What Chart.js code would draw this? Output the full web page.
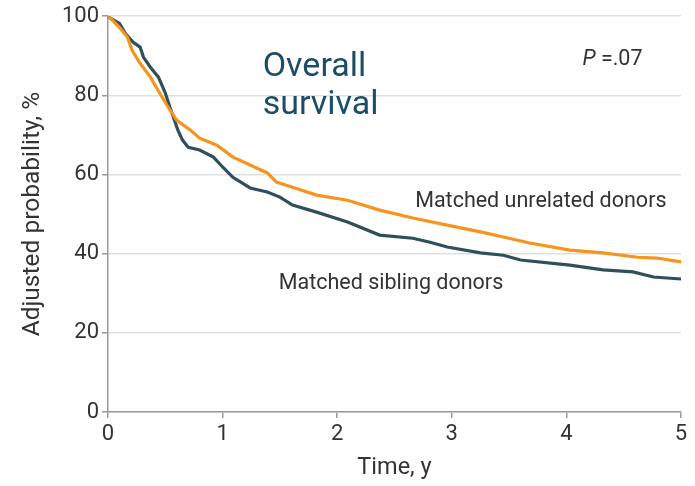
<!DOCTYPE html>
<html>
<head>
<meta charset="utf-8">
<script src="https://cdn.jsdelivr.net/npm/chart.js@4/dist/chart.umd.min.js"></script>
<style>
  html, body { margin: 0; padding: 0; background: #fff; }
  #wrap { width: 695px; height: 486px; position: relative; }
</style>
</head>
<body>
<div id="wrap"><canvas id="c" width="695" height="486"></canvas></div>
<script>
// Survival time in years and adjusted survival probability (%)
const unrelatedTime = [0, 0.02, 0.10, 0.17, 0.21, 0.28, 0.37, 0.45, 0.54, 0.60, 0.72, 0.80, 0.95, 1.09, 1.24, 1.39, 1.47, 1.61, 1.82, 2.09, 2.37, 2.66, 2.96, 3.25, 3.45, 3.68, 4.03, 4.32, 4.62, 4.79, 5.0];
const unrelatedProb = [100, 99.5, 97.2, 94.7, 91.4, 88.1, 84.6, 80.6, 76.3, 73.7, 71.2, 69.2, 67.4, 64.4, 62.4, 60.4, 58.1, 56.8, 54.8, 53.5, 51.0, 49.0, 47.2, 45.5, 44.2, 42.7, 40.9, 40.2, 39.1, 38.9, 37.9];

const siblingTime = [0, 0.02, 0.10, 0.15, 0.22, 0.28, 0.31, 0.37, 0.44, 0.50, 0.54, 0.58, 0.61, 0.65, 0.70, 0.80, 0.92, 1.00, 1.09, 1.24, 1.39, 1.50, 1.61, 1.82, 2.09, 2.37, 2.66, 2.81, 2.96, 3.25, 3.45, 3.60, 4.03, 4.32, 4.58, 4.76, 5.0];
const siblingProb = [100, 99.5, 98.2, 95.7, 93.4, 92.2, 89.6, 87.1, 84.6, 80.6, 77.0, 73.7, 71.2, 68.7, 66.9, 66.2, 64.4, 61.9, 59.3, 56.6, 55.6, 54.3, 52.3, 50.5, 48.0, 44.7, 43.9, 42.9, 41.7, 40.2, 39.6, 38.4, 37.1, 35.9, 35.4, 34.1, 33.6];

const xTicks = [0, 1, 2, 3, 4, 5];
const yTicks = [0, 20, 40, 60, 80, 100];

const FONT = "Roboto, 'Open Sans', sans-serif";
const toPoints = (xs, ys) => xs.map((x, i) => ({ x: x, y: ys[i] }));

// Text annotations placed in data coordinates
const annotations = {
  id: 'annotations',
  afterDatasetsDraw(chart) {
    const { ctx, scales: { x, y } } = chart;
    ctx.save();
    ctx.textBaseline = 'alphabetic';
    ctx.textAlign = 'left';

    ctx.fillStyle = '#1d4c6b';
    ctx.font = `34px ${FONT}`;
    ctx.fillText('Overall', x.getPixelForValue(1.35), y.getPixelForValue(84.8));
    ctx.fillText('survival', x.getPixelForValue(1.35), y.getPixelForValue(75.3));

    ctx.fillStyle = '#333';
    ctx.font = `21.5px ${FONT}`;
    ctx.fillText('Matched unrelated donors', x.getPixelForValue(2.68), y.getPixelForValue(51.8));
    ctx.fillText('Matched sibling donors', x.getPixelForValue(1.49), y.getPixelForValue(31.1));

    const px = x.getPixelForValue(4.14), py = y.getPixelForValue(87.6);
    ctx.font = `italic 21.5px ${FONT}`;
    ctx.fillText('P', px, py);
    const w = ctx.measureText('P ').width;
    ctx.font = `21.5px ${FONT}`;
    ctx.fillText('=.07', px + w, py);
    ctx.restore();
  }
};

new Chart(document.getElementById('c'), {
  type: 'line',
  data: {
    datasets: [
      {
        label: 'Matched unrelated donors',
        data: toPoints(unrelatedTime, unrelatedProb),
        borderColor: '#f7941d',
        borderWidth: 3.2,
        pointRadius: 0,
        tension: 0,
        fill: false
      },
      {
        label: 'Matched sibling donors',
        data: toPoints(siblingTime, siblingProb),
        borderColor: '#2e4f5c',
        borderWidth: 3.2,
        pointRadius: 0,
        tension: 0,
        fill: false
      }
    ]
  },
  options: {
    responsive: false,
    animation: false,
    layout: { padding: { left: 0, right: 14, top: 16, bottom: 0 } },
    plugins: {
      legend: { display: false },
      tooltip: { enabled: false }
    },
    scales: {
      x: {
        type: 'linear',
        min: 0,
        max: 5,
        afterFit(s) { s.height = 74; },
        afterBuildTicks(s) { s.ticks = xTicks.map(v => ({ value: v })); },
        border: { color: '#999', width: 1.5 },
        grid: { drawOnChartArea: false, color: '#999', tickColor: '#999', tickLength: 6, lineWidth: 1.5 },
        ticks: { color: '#333', font: { family: FONT, size: 22 }, padding: 3, maxRotation: 0 },
        title: { display: true, text: 'Time, y', color: '#333', font: { family: FONT, size: 23.5 }, padding: { top: 2, bottom: 4 } }
      },
      y: {
        min: 0,
        max: 100,
        afterFit(s) { s.width = 108; },
        afterBuildTicks(s) { s.ticks = yTicks.map(v => ({ value: v })); },
        border: { color: '#999', width: 1.5 },
        grid: { color: '#e0e0e0', lineWidth: 1.5, tickColor: '#999', tickLength: 6 },
        ticks: { color: '#333', font: { family: FONT, size: 22 }, padding: 3 },
        title: { display: true, text: 'Adjusted probability, %', color: '#333', font: { family: FONT, size: 24.5 }, padding: { top: 18, bottom: 0 } }
      }
    }
  },
  plugins: [annotations]
});
</script>
</body>
</html>
